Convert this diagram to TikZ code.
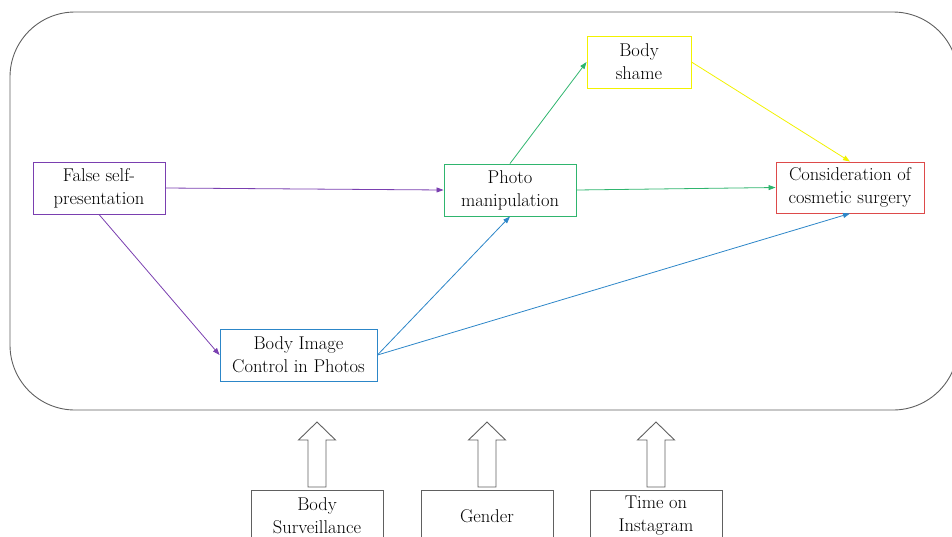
\documentclass[tikz,border=0pt]{standalone}
\usepackage{tikz}
\usetikzlibrary{arrows.meta, calc}
\definecolor{lpurple}{HTML}{7A3FB0}
\definecolor{lgreen}{HTML}{2FB56E}
\definecolor{lblue}{HTML}{2C86C8}
\definecolor{lyellow}{HTML}{F2F200}
\definecolor{lred}{HTML}{DD4A4A}
\definecolor{lgray}{HTML}{606060}
\tikzset{
	box/.style={draw=#1, fill=white, line width=0.9pt, align=center, inner sep=2pt,
		font=\fontsize{18.5}{23}\selectfont, minimum height=52pt},
	arr/.style={draw=#1, line width=0.8pt, -{Triangle[length=7pt, width=5pt]}}
}
\newcommand{\UpArrow}[1]{
	\def\ax{#1}
	\draw[lgray, line width=0.9pt] (\ax-9,487) -- (\ax-9,440) -- (\ax-18.5,440) -- (\ax,422)
		-- (\ax+18.5,440) -- (\ax+9,440) -- (\ax+9,487) -- cycle;
}

\begin{document}
\begin{tikzpicture}[x=1pt, y=-1pt, line join=miter]
	\useasboundingbox (0,0) rectangle (952,536);
	\clip (0,0) rectangle (952,536);

	\draw[lgray, line width=0.9pt, rounded corners=65pt] (10,12) rectangle (958,410);

	\node[box=lpurple, minimum width=132pt] (FSP) at (99,188) {False self-\\presentation};
	\node[box=lgreen, minimum width=132pt] (PM) at (510,190) {Photo\\manipulation};
	\node[box=lyellow, minimum width=104pt] (BS) at (639,62) {Body\\shame};
	\node[box=lred, minimum width=148pt, minimum height=51pt] (CCS) at (850,187.5) {Consideration of\\cosmetic surgery};
	\node[box=lblue, minimum width=157pt] (BIC) at (298.5,355) {Body Image\\Control in Photos};

	\node[box=lgray, minimum width=132pt] (BSV) at (317,516) {Body\\Surveillance};
	\node[box=lgray, minimum width=132pt] (GEN) at (487,516) {Gender};
	\node[box=lgray, minimum width=132pt] (TOI) at (656,516) {Time on\\Instagram};

	\draw[arr=lpurple] (FSP.east) -- (PM.west);
	\draw[arr=lpurple] (FSP.south) -- (BIC.west);
	\draw[arr=lblue] (BIC.east) -- (PM.south);
	\draw[arr=lblue] (BIC.east) -- (CCS.south);
	\draw[arr=lgreen] (PM.north) -- (BS.west);
	\draw[arr=lgreen] (PM.east) -- (CCS.west);
	\draw[arr=lyellow] (BS.east) -- (CCS.north);

	\foreach \x in {317, 487, 656} {
		\UpArrow{\x}
	}
\end{tikzpicture}
\end{document}
